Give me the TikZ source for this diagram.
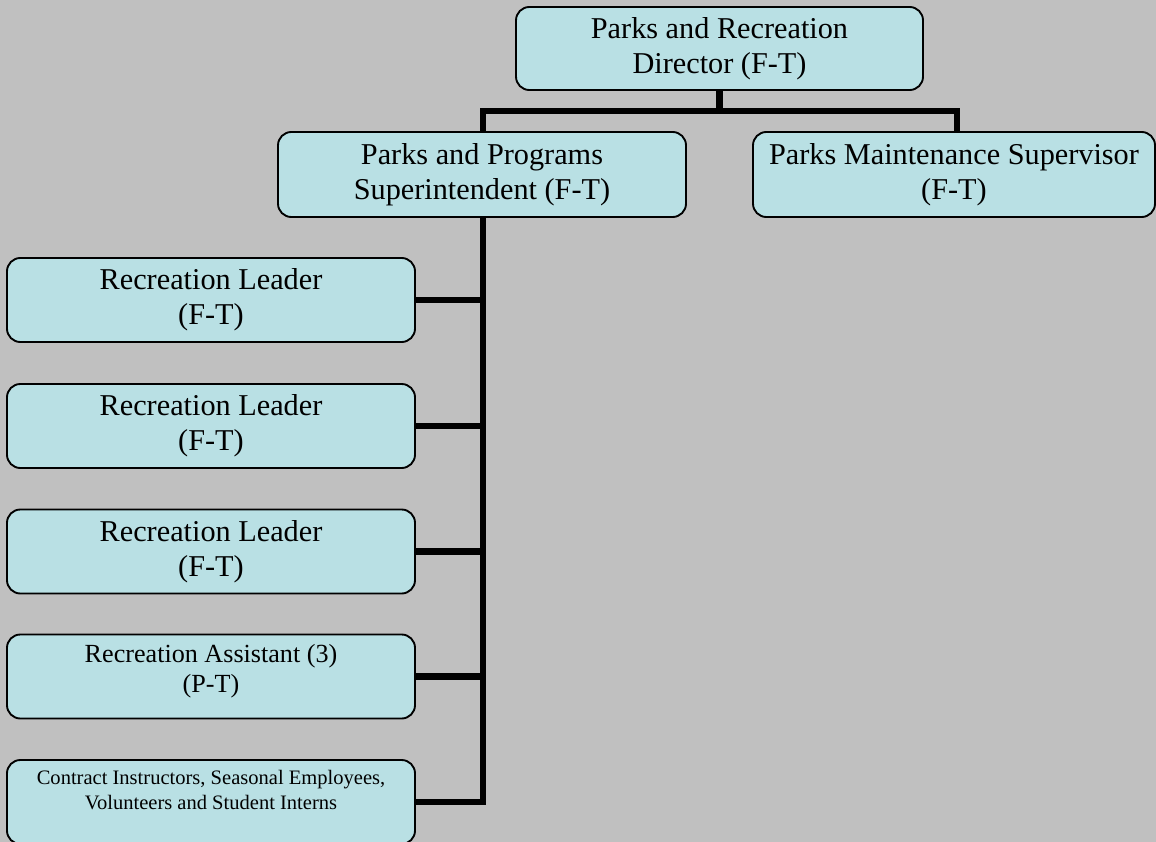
\documentclass[tikz,border=0pt]{standalone}
\usepackage{fontspec}
\setmainfont{Liberation Serif}
\definecolor{bgc}{RGB}{192,192,192}
\definecolor{boxfill}{RGB}{185,224,228}
\begin{document}
\begin{tikzpicture}[x=0.75pt,y=-0.75pt,
  box/.style={draw=black, line width=1.4pt, fill=boxfill, rounded corners=10pt, inner sep=0pt, align=center},
  big/.style={font=\fontsize{22.7}{26.3}\selectfont},
  mid/.style={font=\fontsize{19.6}{22.5}\selectfont},
  small/.style={font=\fontsize{15.4}{18.8}\selectfont},
  conn/.style={line width=4.6pt}]
\useasboundingbox (0,0) rectangle (1156,842);
\clip (0,0) rectangle (1156,842);
\fill[bgc] (0,0) rectangle (1156,842);

% boxes
\node[box, big, minimum width=305.25pt, minimum height=62.25pt] (dir) at (719.5,48.5) {Parks and Recreation\\Director (F-T)};
\node[box, big, minimum width=306pt, minimum height=63.75pt] (sup) at (482,174.5) {Parks and Programs\\Superintendent (F-T)};
\node[box, big, minimum width=301.5pt, minimum height=63.75pt] (mnt) at (954,174.5) {Parks Maintenance Supervisor\\(F-T)};
\node[box, big, minimum width=306pt, minimum height=63pt] (rl1) at (211,300) {Recreation Leader\\(F-T)};
\node[box, big, minimum width=306pt, minimum height=63pt] (rl2) at (211,426) {Recreation Leader\\(F-T)};
\node[box, big, minimum width=306pt, minimum height=63pt] (rl3) at (211,551.5) {Recreation Leader\\(F-T)};
\node[box, minimum width=306pt, minimum height=63pt] (ra) at (211,676.5) {};
\node[mid, align=center, inner sep=0pt] (rat) at (211,671) {Recreation Assistant (3)\\(P-T)};
\node[box, minimum width=306pt, minimum height=63pt] (ct) at (211,802) {};
\node[small, align=center, inner sep=0pt, anchor=north] (ctt) at (211,770) {Contract Instructors, Seasonal Employees,\\Volunteers and Student Interns};

% connectors
\coordinate (dj) at (719.5,111);
\coordinate (sx) at (483,111);
\coordinate (mx) at (957,111);
\draw[conn] (dir.south -| dj) -- (dj);
\draw[conn] (sup.north -| sx) -- (sx) -- (mx) -- (mnt.north -| mx);
\draw[conn] (sup.south -| sx) -- (sx |- ct.east) -- (ct.east);
\foreach \n in {rl1,rl2,rl3,ra}
  \draw[conn] (\n.east) -- (sx |- \n.east);
\end{tikzpicture}
\end{document}
